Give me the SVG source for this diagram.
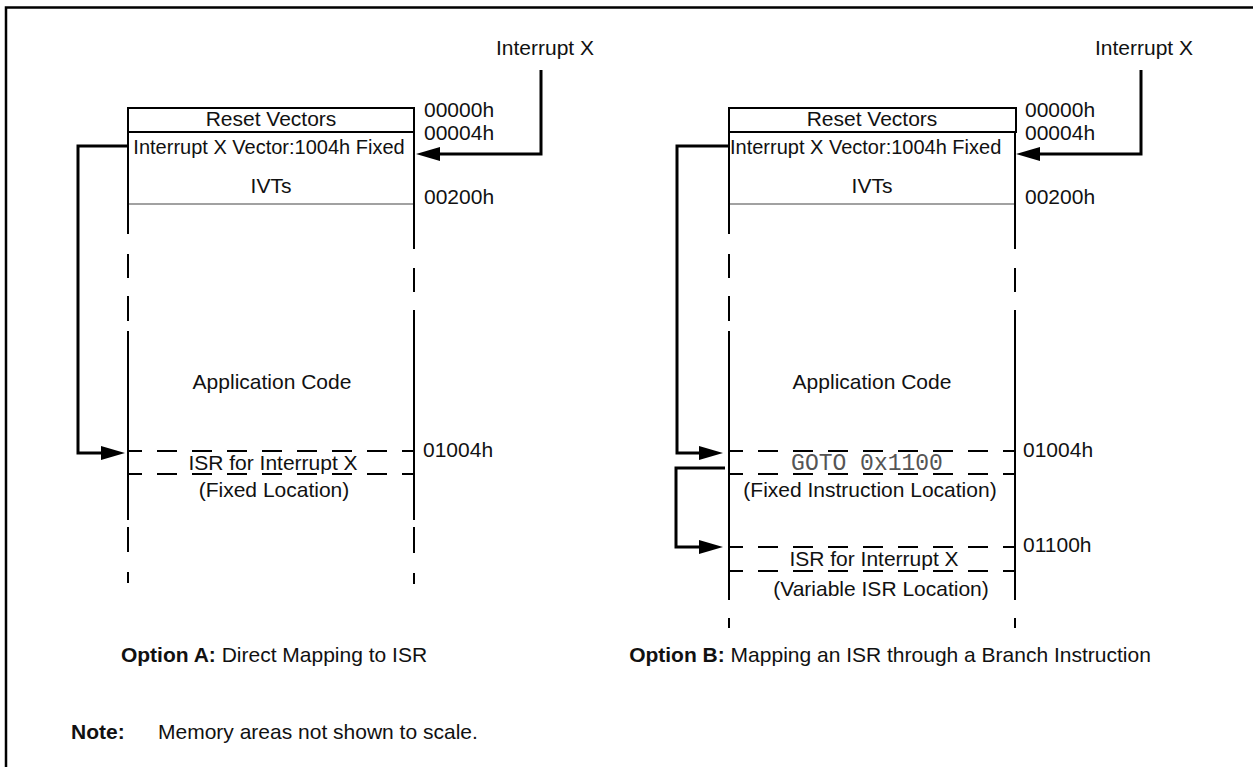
<svg xmlns="http://www.w3.org/2000/svg" width="1253" height="767" viewBox="0 0 1253 767">
  <defs>
    <style>
      text { font-family: "Liberation Sans", Arial, sans-serif; font-size: 21px; fill: #111; }
      .mid { text-anchor: middle; }
      .bold { font-weight: bold; }
      .code { font-family: "Liberation Mono", "Courier New", monospace; font-size: 23px; fill: #555; }
      .wall { stroke: #000; stroke-width: 2; fill: none; }
      .thin { stroke: #444; stroke-width: 1.2; fill: none; }
      .dash { stroke: #000; stroke-width: 2; fill: none; stroke-dasharray: 20 15; stroke-dashoffset: 6; }
      .wire { stroke: #000; stroke-width: 3; fill: none; stroke-linejoin: miter; marker-end: url(#head); }
      .frame { stroke: #000; stroke-width: 2.5; fill: none; }
    </style>
    <marker id="head" markerUnits="userSpaceOnUse" markerWidth="26" markerHeight="16" refX="0" refY="7" orient="auto">
      <path d="M0,0 L24,7 L0,14 z" fill="#000"/>
    </marker>
  </defs>

  <rect width="1253" height="767" fill="#fff"/>
  <!-- outer frame: top and left edges -->
  <path class="frame" d="M6,767 V7.5 H1253"/>

  <!-- Option A memory map -->
  <g id="mapA">
    <path class="wall" d="M128,108 H414 M128,132 H414"/>
    <path class="thin" d="M128,204 H414"/>
    <!-- left wall -->
    <path class="wall" d="M128,107 V234 M128,254 V278 M128,296 V321 M128,331 V520 M128,527 V552 M128,572 V583"/>
    <!-- right wall -->
    <path class="wall" d="M414,107 V249 M414,268 V292 M414,310 V520 M414,527 V553 M414,573 V584"/>
    <text class="mid" x="271" y="126">Reset Vectors</text>
    <text class="mid" x="269" y="154" style="font-size:20px">Interrupt X Vector:1004h Fixed</text>
    <text class="mid" x="271" y="193">IVTs</text>
    <text class="mid" x="272" y="389">Application Code</text>
  </g>

  <g id="isrA">
    <path class="dash" d="M128,451 H414 M128,474 H414"/>
    <text class="mid" x="273" y="470">ISR for Interrupt X</text>
    <text class="mid" x="274" y="497">(Fixed Location)</text>
  </g>

  <g id="addrA">
    <text x="424" y="117">00000h</text>
    <text x="424" y="140">00004h</text>
    <text x="424" y="204">00200h</text>
    <text x="423" y="457">01004h</text>
  </g>

  <g id="irqA">
    <text class="mid" x="545" y="55">Interrupt X</text>
  </g>

  <!-- Option B memory map -->
  <g id="mapB">
    <path class="wall" d="M729,108 H1016 M729,132 H1016 M1016,107 V133"/>
    <path class="thin" d="M729,204 H1015"/>
    <path class="wall" d="M729,107 V234 M729,254 V278 M729,296 V321 M729,331 V600 M729,618 V628"/>
    <path class="wall" d="M1015,132 V249 M1015,268 V292 M1015,310 V600 M1015,618 V628"/>
    <text class="mid" x="872" y="126">Reset Vectors</text>
    <text x="730" y="154" style="font-size:20px">Interrupt X Vector:1004h Fixed</text>
    <text class="mid" x="872" y="193">IVTs</text>
    <text class="mid" x="872" y="389">Application Code</text>
  </g>

  <g id="gotoB">
    <path class="dash" d="M729,451 H1015 M729,474 H1015"/>
    <text class="mid code" x="867" y="470">GOTO 0x1100</text>
    <text class="mid" x="870" y="497">(Fixed Instruction Location)</text>
  </g>

  <g id="isrB">
    <path class="dash" d="M729,547 H1015 M729,571 H1015"/>
    <text class="mid" x="874" y="566">ISR for Interrupt X</text>
    <text class="mid" x="881" y="596">(Variable ISR Location)</text>
  </g>

  <g id="addrB">
    <text x="1025" y="117">00000h</text>
    <text x="1025" y="140">00004h</text>
    <text x="1025" y="204">00200h</text>
    <text x="1023" y="457">01004h</text>
    <text x="1023" y="552">01100h</text>
  </g>

  <g id="irqB">
    <text class="mid" x="1144" y="55">Interrupt X</text>
  </g>

  <!-- connectors -->
  <g id="connectors">
    <path class="wire" d="M541,70 V154 H440"/>
    <path class="wire" d="M128,146 H78 V453 H101"/>
    <path class="wire" d="M1141,70 V154 H1040"/>
    <path class="wire" d="M729,146 H677 V453 H699"/>
    <path class="wire" d="M725,468 H676 V547 H699"/>
  </g>

  <!-- captions -->
  <g id="captionA">
    <text class="mid" x="274" y="662"><tspan class="bold">Option A:</tspan> Direct Mapping to ISR</text>
  </g>
  <g id="captionB">
    <text class="mid" x="890" y="662"><tspan class="bold">Option B:</tspan> Mapping an ISR through a Branch Instruction</text>
  </g>
  <g id="note">
    <text class="bold" x="71" y="739">Note:</text>
    <text x="158" y="739">Memory areas not shown to scale.</text>
  </g>
</svg>
